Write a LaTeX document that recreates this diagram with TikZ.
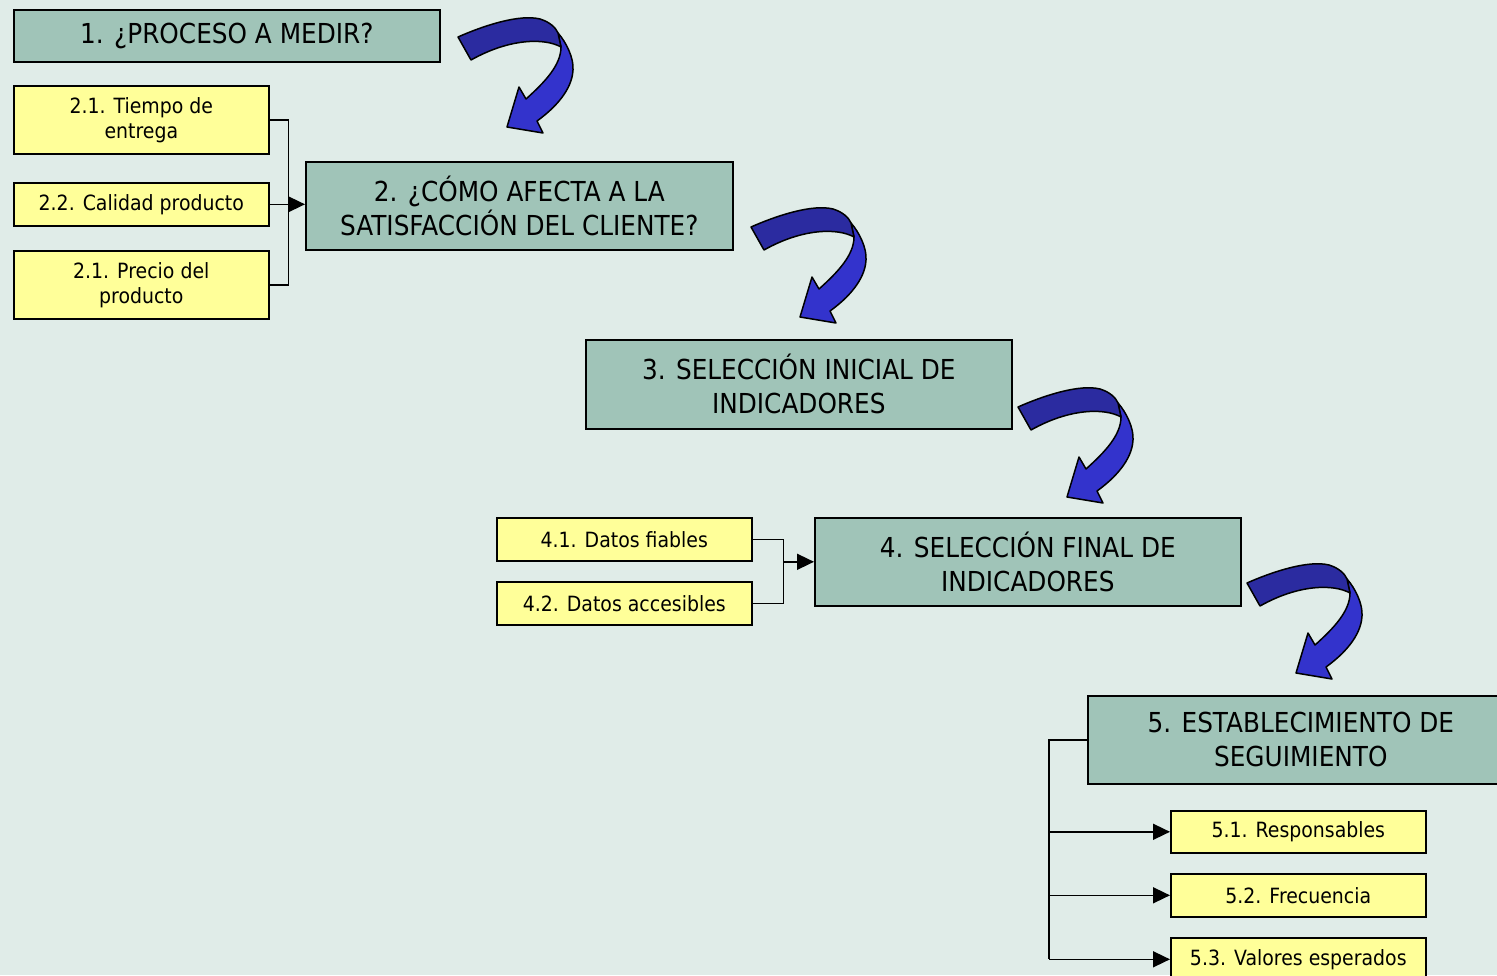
\documentclass[tikz,border=0pt]{standalone}
\usepackage{fontspec}
\setmainfont{DejaVu Sans}[FakeStretch=0.9]
\usetikzlibrary{arrows.meta}
\definecolor{fondo}{RGB}{224,236,232}
\definecolor{verde}{RGB}{160,196,184}
\definecolor{amarillo}{RGB}{255,255,153}
\definecolor{azul}{RGB}{51,51,204}
\definecolor{azuloscuro}{RGB}{43,43,160}
\tikzset{
	fase/.style={draw, fill=verde, line width=1.6pt, anchor=north west, align=center, inner sep=0pt, font=\fontsize{27.5}{34}\selectfont},
	item/.style={draw, fill=amarillo, line width=1.6pt, anchor=north west, align=center, inner sep=0pt, font=\fontsize{21}{25}\selectfont},
	linea/.style={line width=1.6pt},
	flecha/.style={line width=1.6pt, -{Triangle[length=17pt,width=16pt]}},
	giro/.pic={
		\filldraw[fill=azul, draw=black, line width=1.5pt, line join=round]
			(118,33) .. controls (126,42) and (134,58) .. (133,70)
			.. controls (132,90) and (115,108) .. (97,121) -- (103,133) -- (67,127)
			-- (79,87) -- (86,99) .. controls (105,82) and (121,65) .. (121,47) -- cycle;
		\filldraw[fill=azuloscuro, draw=black, line width=1.5pt, line join=round]
			(18,37) .. controls (45,25) and (80,14) .. (100,19)
			.. controls (110,22) and (116,28) .. (118,33) -- (121,47)
			.. controls (105,38) and (70,38) .. (31,60) -- cycle;
	}
}
\begin{document}
\begin{tikzpicture}[x=1pt,y=-1pt]
	\fill[fondo] (0,0) rectangle (1497,975);
	\useasboundingbox (0,0) rectangle (1497,975);
	% fases
	\node[fase, minimum width=426, minimum height=52] (p1) at (13,9) {1. ¿PROCESO A MEDIR?};
	\node[fase, minimum width=427, minimum height=88] (p2) at (305,161) {2. ¿CÓMO AFECTA A LA\\SATISFACCIÓN DEL CLIENTE?};
	\node[fase, minimum width=426, minimum height=89] (p3) at (585,339) {3. SELECCIÓN INICIAL DE\\INDICADORES};
	\node[fase, minimum width=426, minimum height=88] (p4) at (814,517) {4. SELECCIÓN FINAL DE\\INDICADORES};
	\node[fase, minimum width=426, minimum height=88] (p5) at (1087,695) {5. ESTABLECIMIENTO DE\\SEGUIMIENTO};
	% criterios
	\node[item, minimum width=255, minimum height=68] (p21) at (13,85) {2.1. Tiempo de\\entrega};
	\node[item, minimum width=255, minimum height=43] (p22) at (13,182) {2.2. Calidad producto};
	\node[item, minimum width=255, minimum height=68] (p23) at (13,250) {2.1. Precio del\\producto};
	\node[item, minimum width=255, minimum height=43] (p41) at (496,517) {4.1. Datos fiables};
	\node[item, minimum width=255, minimum height=43] (p42) at (496,581) {4.2. Datos accesibles};
	\node[item, minimum width=255, minimum height=42] (p51) at (1170,810) {5.1. Responsables};
	\node[item, minimum width=255, minimum height=43] (p52) at (1170,873) {5.2. Frecuencia};
	\node[item, minimum width=255, minimum height=43] (p53) at (1170,937) {5.3. Valores esperados};
	% conectores
	\draw[linea] (p21.east) -- ++(19,0) |- (p23.east);
	\draw[flecha] (p22.east) -- (p22.east -| p2.west);
	\coordinate (j4) at ([xshift=31pt]p41.east);
	\draw[linea] (p41.east) -- (j4) |- (p42.east);
	\draw[flecha] (j4 |- p4.west) -- (p4.west);
	\coordinate (j5) at ([xshift=-38pt]p5.west);
	\draw[linea] (p5.west) -- (j5) -- (j5 |- p53.west);
	\foreach \n in {51,52,53}{
		\draw[flecha] (j5 |- p\n.west) -- (p\n.west);
	}
	% flechas curvas
	\foreach \x\y in {440/0,733/190,1000/370,1229/546}{
		\pic at (\x,\y) {giro};
	}
\end{tikzpicture}
\end{document}
